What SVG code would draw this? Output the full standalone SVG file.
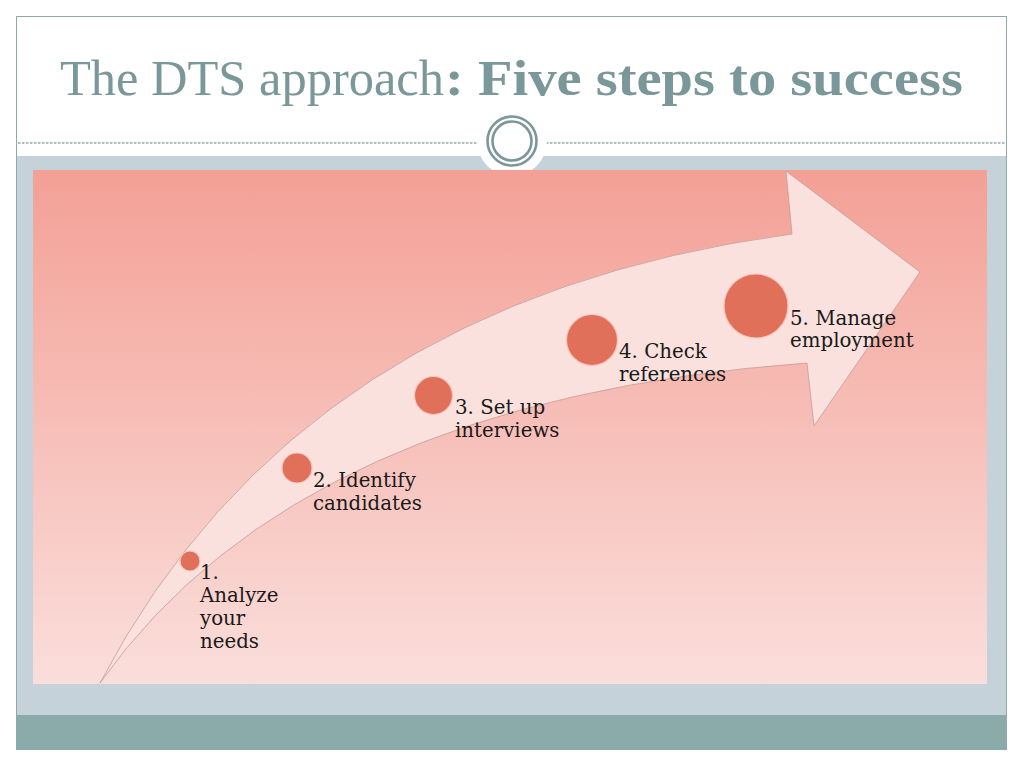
<svg xmlns="http://www.w3.org/2000/svg" width="1024" height="768" viewBox="0 0 1024 768">
<defs>
<linearGradient id="bg" x1="0" y1="0" x2="0" y2="1">
<stop offset="0" stop-color="#f3a096"/>
<stop offset="1" stop-color="#fadedb"/>
</linearGradient>
<clipPath id="aboveBg"><rect x="0" y="0" width="1024" height="170"/></clipPath>
<style>
.dot{fill:#e0705a;stroke:#f6c6bb;stroke-width:1.2}
.lbl{font-family:"DejaVu Serif","Liberation Serif",serif;font-size:19.8px;fill:#1a1a1a}
.ring{fill:none;stroke:#7b9799;stroke-width:2.6}
</style>
</defs>
<rect x="0" y="0" width="1024" height="768" fill="#ffffff"/>
<g id="frame">
<rect x="16.5" y="16.5" width="990" height="733" fill="#ffffff" stroke="#8fa9ab" stroke-width="1"/>
<rect x="17" y="156" width="989" height="559" fill="#c6d2d9"/>
<rect x="17" y="715" width="989" height="35" fill="#8babab"/>
<line x1="18" y1="143" x2="1005" y2="143" stroke="#93a7a9" stroke-width="1.3" stroke-dasharray="2.5 1.5"/>
<rect x="33" y="170" width="954" height="514" fill="url(#bg)"/>
</g>
<g id="ornament">
<circle cx="512" cy="141" r="35" fill="#ffffff" clip-path="url(#aboveBg)"/>
<circle class="ring" cx="512" cy="141" r="24.5"/>
<circle class="ring" cx="512" cy="141" r="19.5"/>
</g>
<g id="title" font-family="'Liberation Serif','Times New Roman',serif" font-size="50" fill="#7a9799">
<text x="60" y="95" textLength="384" lengthAdjust="spacingAndGlyphs">The DTS approach</text>
<text x="445" y="95" font-weight="bold" textLength="518" lengthAdjust="spacingAndGlyphs">: Five steps to success</text>
</g>
<g id="connectors">
<path id="arrow" d="M100,683 Q300,300 792,234 L786,171 L920,272 L814,426 L807,363 Q300,400 100,683 Z" fill="#fbe1dd" stroke="#c79b95" stroke-width="0.8"/>
</g>
<g id="step1">
<circle class="dot" cx="190" cy="561" r="10"/>
<text class="lbl" x="200" y="579">1.</text>
<text class="lbl" x="200" y="602">Analyze</text>
<text class="lbl" x="200" y="625">your</text>
<text class="lbl" x="200" y="648">needs</text>
</g>
<g id="step2">
<circle class="dot" cx="297" cy="468" r="15"/>
<text class="lbl" x="313" y="487">2. Identify</text>
<text class="lbl" x="313" y="510">candidates</text>
</g>
<g id="step3">
<circle class="dot" cx="433.5" cy="395.5" r="19"/>
<text class="lbl" x="455" y="414">3. Set up</text>
<text class="lbl" x="455" y="437">interviews</text>
</g>
<g id="step4">
<circle class="dot" cx="592" cy="340" r="25.5"/>
<text class="lbl" x="619" y="358">4. Check</text>
<text class="lbl" x="619" y="381">references</text>
</g>
<g id="step5">
<circle class="dot" cx="756" cy="306" r="32"/>
<text class="lbl" x="790" y="325">5. Manage</text>
<text class="lbl" x="790" y="347">employment</text>
</g>
</svg>
